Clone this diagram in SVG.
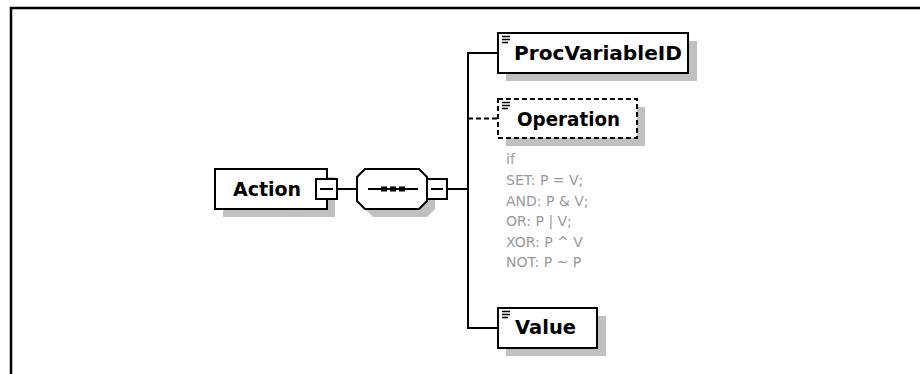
<svg xmlns="http://www.w3.org/2000/svg" width="920" height="374" viewBox="0 0 920 374">
<defs>
<style>
.box{fill:#fff;stroke:#000;stroke-width:2}
.dash{fill:#fff;stroke:#000;stroke-width:2;stroke-dasharray:5,3}
.shadow{fill:#c0c0c0;stroke:none}
.line{fill:none;stroke:#000;stroke-width:2}
.dline{fill:none;stroke:#000;stroke-width:2;stroke-dasharray:5,3}
.lbl{font-family:"DejaVu Sans",Verdana,sans-serif;font-weight:bold;font-size:19px;fill:#000}
.note{font-family:"DejaVu Sans",Verdana,sans-serif;font-size:14px;fill:#999}
.icon{stroke:#000;stroke-width:1.6}
</style>
</defs>
<rect width="920" height="374" fill="#fff"/>
<g id="frame">
<path d="M11,374 V8 H920" fill="none" stroke="#000" stroke-width="2.5"/>
</g>
<g id="connectors">
<path class="line" d="M337,189 H357"/>
<path class="line" d="M447,189 H468"/>
<path class="line" d="M498,53 H468 V328 H498"/>
<path class="dline" d="M468,118.5 H498"/>
</g>
<g id="Action">
<rect class="shadow" x="223" y="177" width="112" height="40"/>
<rect class="box" x="215" y="169" width="112" height="40"/>
<text class="lbl" x="233" y="196">Action</text>
<rect class="box" x="316" y="179" width="21" height="20"/>
<path class="line" d="M320,189 H333"/>
</g>
<g id="sequence">
<polygon class="shadow" points="373,177 427,177 435,185 435,209 427,217 373,217 365,209 365,185"/>
<polygon class="box" points="365,169 419,169 427,177 427,201 419,209 365,209 357,201 357,177"/>
<path class="line" d="M368,189 H418"/>
<rect x="381" y="186.5" width="6" height="5" fill="#000"/>
<rect x="390" y="186.5" width="6" height="5" fill="#000"/>
<rect x="399" y="186.5" width="6" height="5" fill="#000"/>
<rect class="box" x="427" y="179" width="20" height="20"/>
<path class="line" d="M431,189 H443"/>
</g>
<g id="ProcVariableID">
<rect class="shadow" x="506" y="41" width="191" height="40"/>
<rect class="box" x="498" y="33" width="190" height="40"/>
<path class="icon" d="M502,36.5 H510 M502,39.5 H510 M502,42.5 H508"/>
<text class="lbl" x="514" y="60" textLength="168" lengthAdjust="spacingAndGlyphs">ProcVariableID</text>
</g>
<g id="Operation">
<rect class="shadow" x="506" y="107" width="139" height="39"/>
<rect class="dash" x="498" y="99" width="139" height="39"/>
<path class="icon" d="M502,102.5 H510 M502,105.5 H510 M502,108.5 H508"/>
<text class="lbl" x="517" y="126" textLength="103" lengthAdjust="spacingAndGlyphs">Operation</text>
</g>
<g id="annotation">
<text class="note" x="506" y="164">if</text>
<text class="note" x="506" y="185">SET: P = V;</text>
<text class="note" x="506" y="205.5">AND: P &amp; V;</text>
<text class="note" x="506" y="226">OR: P | V;</text>
<text class="note" x="506" y="246.5">XOR: P ^ V</text>
<text class="note" x="506" y="267">NOT: P ~ P</text>
</g>
<g id="Value">
<rect class="shadow" x="506" y="316" width="100" height="40"/>
<rect class="box" x="498" y="308" width="99" height="40"/>
<path class="icon" d="M502,311.5 H510 M502,314.5 H510 M502,317.5 H508"/>
<text class="lbl" x="515" y="334" textLength="61" lengthAdjust="spacingAndGlyphs">Value</text>
</g>
</svg>
